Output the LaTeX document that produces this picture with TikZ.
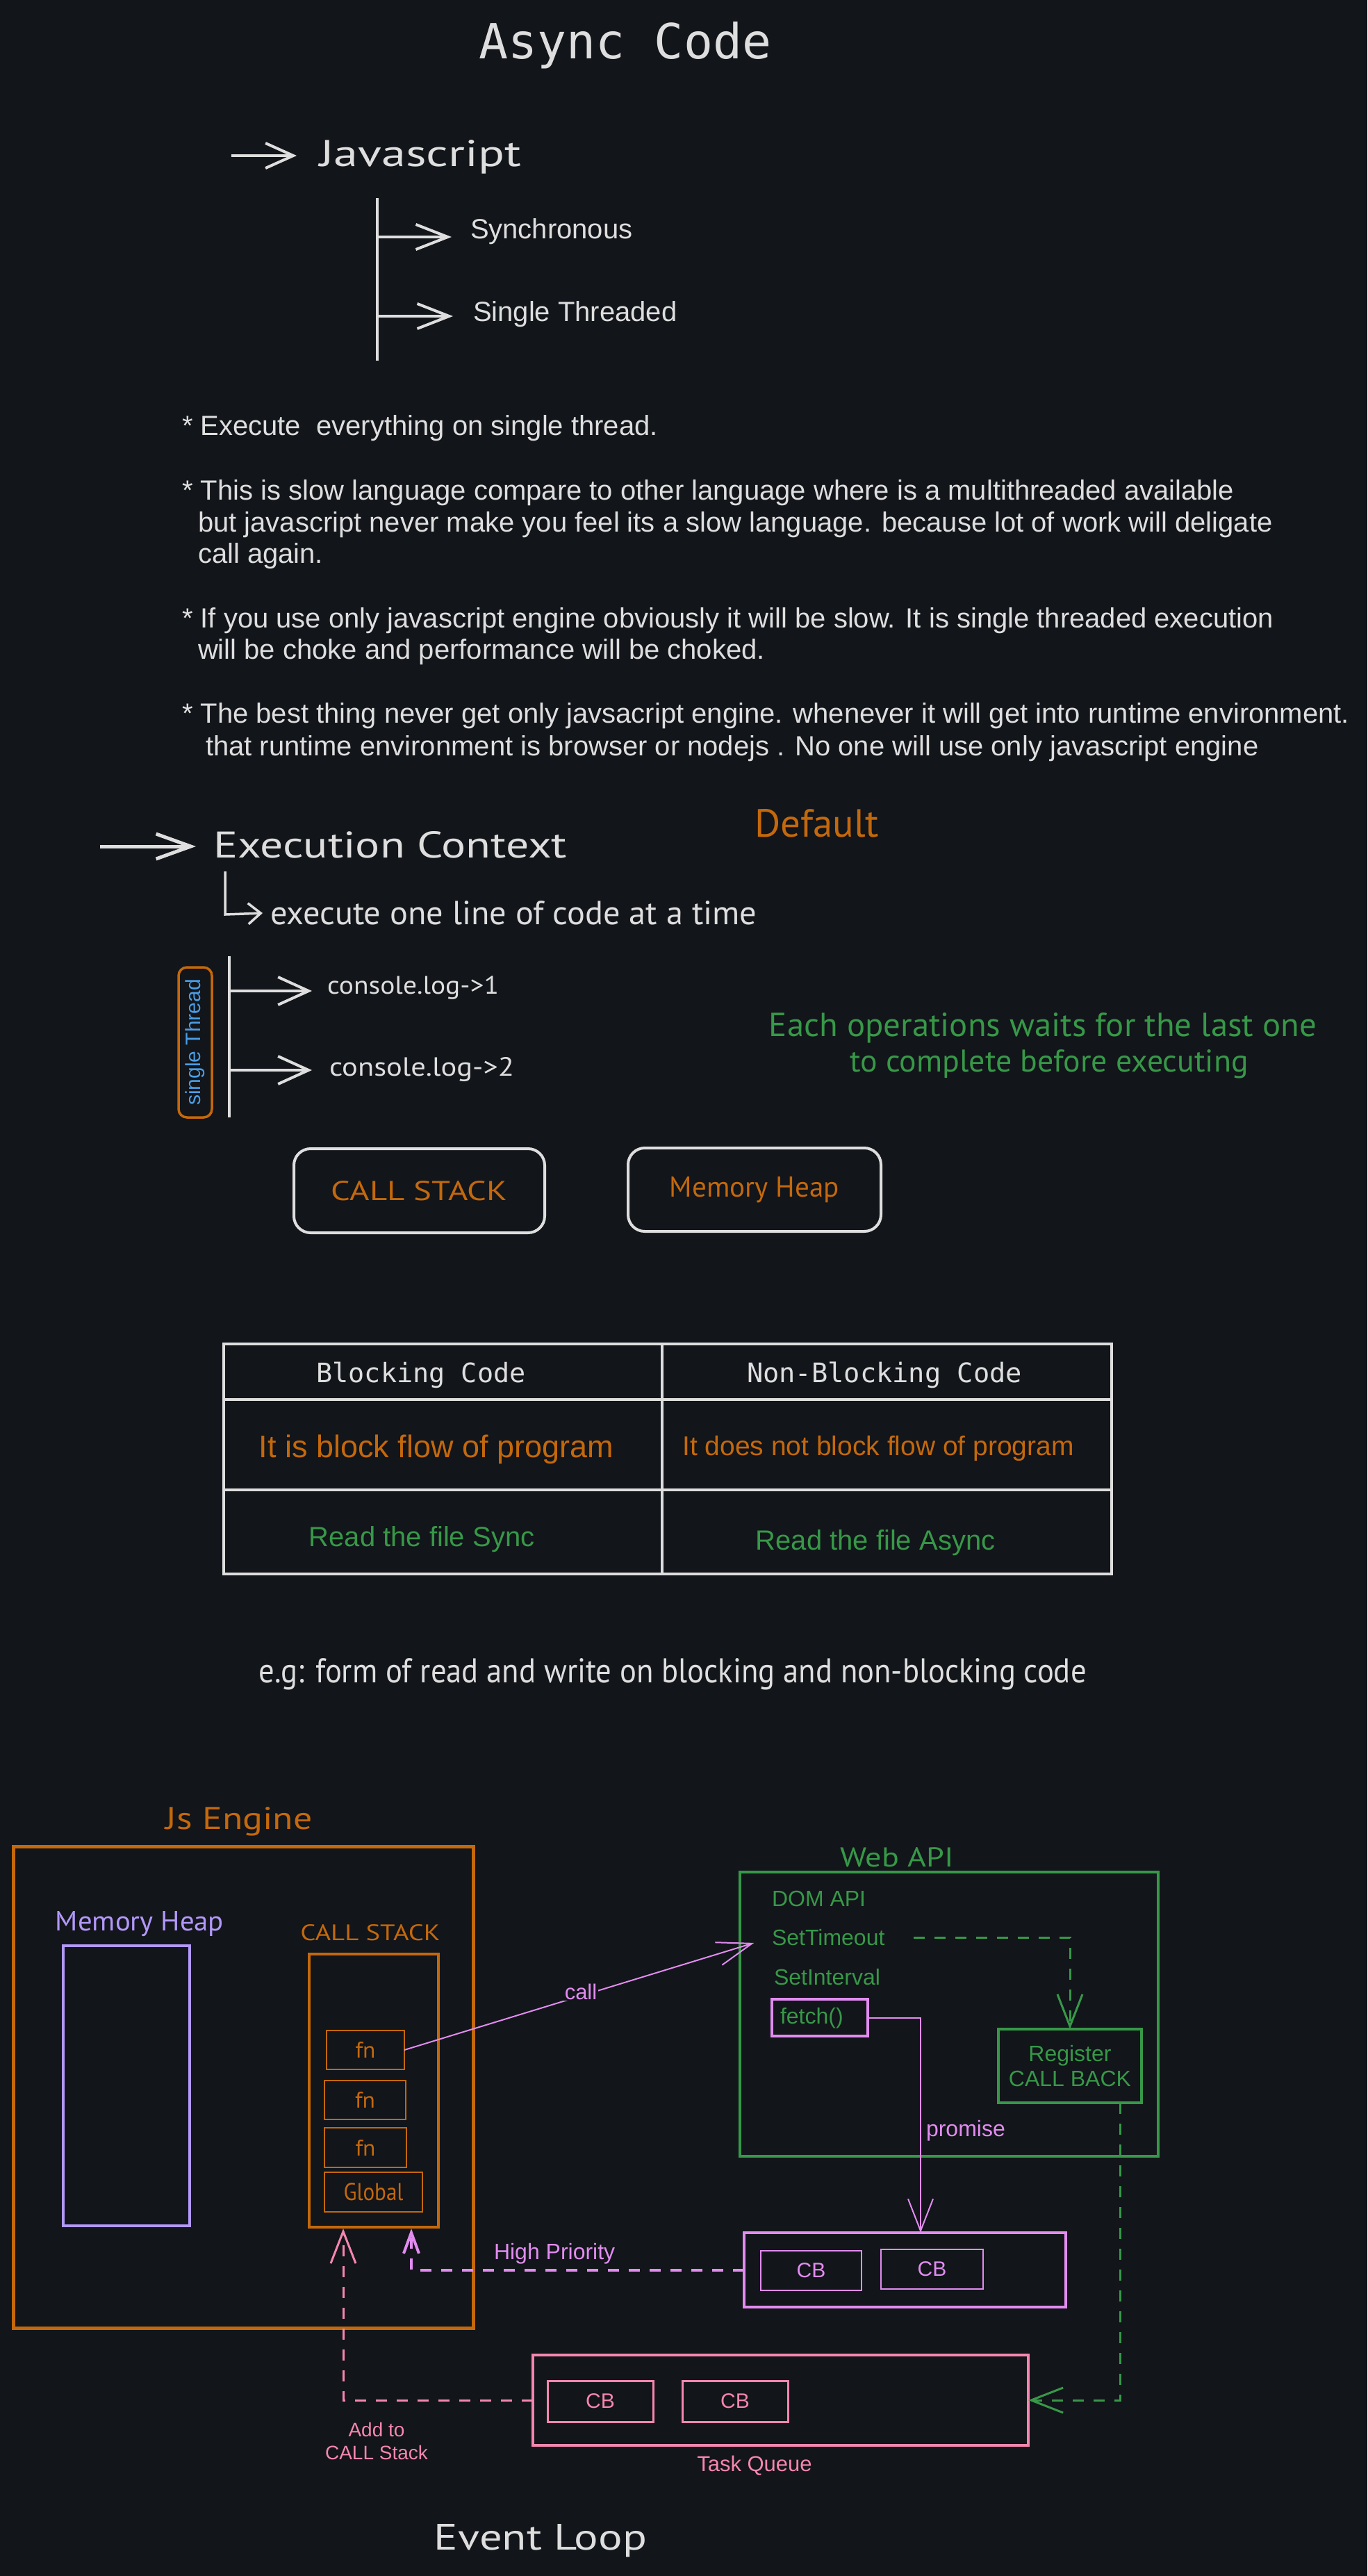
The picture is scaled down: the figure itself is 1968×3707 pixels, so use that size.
\documentclass[tikz,border=0pt]{standalone}
\usepackage{fontspec}
\usepackage{graphicx}
\setmainfont{Liberation Sans}
\newfontfamily\handfont{PT Sans}
\newfontfamily\codefont{DejaVu Sans Mono}
\usetikzlibrary{arrows.meta}
\definecolor{bg}{RGB}{18,21,26}
\definecolor{fg}{RGB}{222,222,222}
\definecolor{org}{RGB}{196,104,12}
\definecolor{grn}{RGB}{55,152,72}
\definecolor{vio}{RGB}{226,140,240}
\definecolor{pnk}{RGB}{247,134,174}
\definecolor{lav}{RGB}{178,152,250}
\definecolor{blu}{RGB}{74,158,230}
\newcommand{\hw}[3]{\resizebox{#1pt}{#2pt}{\handfont #3}}
\newcommand{\cw}[2]{\resizebox{#1pt}{!}{\codefont #2}}
\newcommand{\fsz}[1]{\fontsize{#1}{#1}\selectfont}
\tikzset{
  txt/.style={inner sep=0pt, outer sep=0pt},
  box/.style={draw, inner sep=0pt, outer sep=0pt, anchor=north west},
  barb/.style={-{Straight Barb[length=46pt,width=36pt]}},
  sbarb/.style={-{Straight Barb[length=30pt,width=22pt]}},
  dsh/.style={dash pattern=on 16pt off 14pt},
}
\begin{document}
\begin{tikzpicture}[x=1pt,y=-1pt]
\fill[bg] (0,0) rectangle (1968,3707);
\useasboundingbox (0,0) rectangle (1968,3707);

% ---------- title ----------
\node[txt, text=fg] (title) at (900,65) {\cw{420}{Async Code}};

% ---------- Javascript ----------
\node[txt, text=fg, anchor=west] (js) at (460,226) {\hw{290}{38}{Javascript}};
\coordinate (jsA) at (333,224);
\draw[fg, line width=4pt, -{Straight Barb[length=40pt,width=36pt]}, shorten >=33pt] (jsA) -- (js.west |- jsA);

\coordinate (t1) at (543,285);
\coordinate (t2) at (543,519);
\draw[fg, line width=4pt] (t1) -- (t2);
\node[txt, text=fg, anchor=west] (sync) at (677,333) {\fsz{40}Synchronous};
\node[txt, text=fg, anchor=west] (single) at (681,452) {\fsz{40}Single Threaded};
\coordinate (b1) at (543,341);
\coordinate (b2) at (543,455);
\draw[fg, line width=4pt, barb] (b1) -- (650,341);
\draw[fg, line width=4pt, barb] (b2) -- (652,455);

% ---------- bullet text ----------
\begin{scope}[every node/.style={txt, text=fg, anchor=base west, font=\fsz{40}}]
\node (l1) at (262,626) {* Execute\ \ everything on single thread.};
\node (l2) at (262,719) {* This is slow language compare to other language where is a multithreaded available};
\node (l3) at (285,765) {but javascript never make you feel its a slow language. because lot of work will deligate};
\node (l4) at (285,810) {call again.};
\node (l5) at (262,903) {* If you use only javascript engine obviously it will be slow. It is single threaded execution};
\node (l6) at (285,948) {will be choke and performance will be choked.};
\node (l7) at (262,1040) {* The best thing never get only javsacript engine. whenever it will get into runtime environment.};
\node (l8) at (296,1087) {that runtime environment is browser or nodejs . No one will use only javascript engine};
\end{scope}

% ---------- Execution context ----------
\node[txt, text=fg, anchor=west] (ec) at (307,1216) {\hw{509}{38}{Execution Context}};
\coordinate (ecA) at (144,1218);
\draw[fg, line width=5pt, -{Straight Barb[length=50pt,width=36pt]}] (ecA) -- (282,1218);
\node[txt, text=org, anchor=west] (def) at (1086,1185) {\hw{179}{40}{Default}};
\node[txt, text=fg, anchor=west] (exe) at (389,1314) {\hw{700}{34}{execute one line of code at a time}};
\coordinate (exA) at (324,1254);
\draw[fg, line width=3.5pt, -{Straight Barb[length=18pt,width=30pt]}] (exA) -- (324,1316) -- (378,1314);

\coordinate (v1) at (330,1376);
\coordinate (v2) at (330,1608);
\draw[fg, line width=3.5pt] (v1) -- (v2);
\node[txt, text=fg, anchor=west] (c1) at (471,1421) {\hw{247}{26}{console.log->1}};
\node[txt, text=fg, anchor=west] (c2) at (474,1539) {\hw{266}{27}{console.log->2}};
\coordinate (cb1a) at (330,1426);
\coordinate (cb2a) at (330,1540);
\draw[fg, line width=4pt, -{Straight Barb[length=44pt,width=40pt]}] (cb1a) -- (449,1426);
\draw[fg, line width=4pt, -{Straight Barb[length=44pt,width=40pt]}] (cb2a) -- (449,1540);

\node[draw=org, line width=3.5pt, rounded corners=12pt, rotate=90, minimum width=216pt, minimum height=48pt, text=blu, inner sep=0pt, font=\fsz{30}] (thr) at (281,1500) {single Thread};

\node[txt, text=grn] (each1) at (1501,1479) {\hw{788}{34}{Each operations waits for the last one}};
\node[txt, text=grn] (each2) at (1510,1531) {\hw{573}{32}{to complete before executing}};

\node[box, draw=fg, line width=4pt, rounded corners=24pt, minimum width=361pt, minimum height=121pt] (csb) at (423,1653) {};
\node[box, draw=fg, line width=4pt, rounded corners=24pt, minimum width=364pt, minimum height=120pt] (mhb) at (904,1652) {};
\node[txt, text=org] (cst) at (csb.center) {\hw{253}{28}{CALL STACK}};
\node[txt, text=org] (mht) at (mhb.center) {\hw{244}{29}{Memory Heap}};

% ---------- table ----------
\node[box, draw=fg, line width=4.5pt, minimum width=1278pt, minimum height=331pt] (tbl) at (322,1934) {};
\coordinate (tv1) at (953,1934);
\coordinate (tv2) at (953,2265);
\draw[fg, line width=4.5pt] (tv1) -- (tv2);
\coordinate (th1a) at (322,2014);
\coordinate (th1b) at (1600,2014);
\coordinate (th2a) at (322,2144);
\coordinate (th2b) at (1600,2144);
\draw[fg, line width=4.5pt] (th1a) -- (th1b);
\draw[fg, line width=4.5pt] (th2a) -- (th2b);
\node[txt, text=fg] (h1) at (606,1979) {\cw{301}{Blocking Code}};
\node[txt, text=fg] (h2) at (1273,1979) {\cw{396}{Non-Blocking Code}};
\node[txt, text=org, font=\fsz{45}] (r1a) at (628,2086) {It is block flow of program};
\node[txt, text=org, font=\fsz{39}] (r1b) at (1264,2084) {It does not block flow of program};
\node[txt, text=grn, font=\fsz{40}] (r2a) at (607,2215) {Read the file Sync};
\node[txt, text=grn, font=\fsz{40}] (r2b) at (1260,2220) {Read the file Async};

\node[txt, text=fg] (eg) at (968,2409) {\hw{1191}{35}{e.g: form of read and write on blocking and non-blocking code}};

% ---------- JS engine ----------
\node[txt, text=org] (jsel) at (344,2621) {\hw{211}{32}{Js Engine}};
\node[box, draw=org, line width=5pt, minimum width=662pt, minimum height=693pt] (jse) at (19,2657) {};
\node[txt, text=lav] (mhl) at (201,2769) {\hw{242}{28}{Memory Heap}};
\node[box, draw=lav, line width=4pt, minimum width=182pt, minimum height=403pt] (mh) at (91,2800) {};
\node[txt, text=org] (csl) at (533,2781) {\hw{201}{23}{CALL STACK}};
\node[box, draw=org, line width=4pt, minimum width=186pt, minimum height=393pt] (cs) at (445,2812) {};
\node[box, draw=org, line width=2pt, minimum width=112pt, minimum height=56pt] (fn1) at (470,2922) {};
\node[box, draw=org, line width=2pt, minimum width=117pt, minimum height=56pt] (fn2) at (467,2994) {};
\node[box, draw=org, line width=2pt, minimum width=118pt, minimum height=57pt] (fn3) at (467,3062) {};
\node[box, draw=org, line width=2pt, minimum width=141pt, minimum height=57pt] (glob) at (467,3126) {};
\node[txt, text=org] at (fn1.center) {\hw{29}{23}{fn}};
\node[txt, text=org] at (fn2.center) {\hw{29}{23}{fn}};
\node[txt, text=org] at (fn3.center) {\hw{29}{23}{fn}};
\node[txt, text=org] at (glob.center) {\hw{86}{25}{Global}};

% ---------- Web API ----------
\node[txt, text=grn] (wal) at (1291,2673) {\hw{163}{28}{Web API}};
\node[box, draw=grn, line width=4pt, minimum width=602pt, minimum height=409pt] (wa) at (1065,2694) {};
\node[txt, text=grn, anchor=west, font=\fsz{32}] (dom) at (1111,2732) {DOM API};
\node[txt, text=grn, anchor=west, font=\fsz{32}] (st) at (1111,2788) {SetTimeout};
\node[txt, text=grn, anchor=west, font=\fsz{32}] (si) at (1114,2845) {SetInterval};
\node[box, draw=vio, line width=4pt, minimum width=138pt, minimum height=53pt] (fetch) at (1111,2877) {};
\node[txt, text=grn, anchor=west, font=\fsz{32}] (fetcht) at (1123,2904) {fetch()};
\node[box, draw=grn, line width=4pt, minimum width=206pt, minimum height=106pt] (reg) at (1437,2920) {};
\node[txt, text=grn, align=center, font=\fontsize{32}{36}\selectfont] (regt) at (reg.center) {Register\\CALL BACK};

% ---------- queues ----------
\node[box, draw=vio, line width=4pt, minimum width=463pt, minimum height=107pt] (mq) at (1071,3213) {};
\node[box, draw=vio, line width=2.5pt, minimum width=145pt, minimum height=57pt, font=\fsz{30}, text=vio] (q1) at (1095,3239) {CB};
\node[box, draw=vio, line width=2.5pt, minimum width=147pt, minimum height=57pt, font=\fsz{30}, text=vio] (q2) at (1268,3237) {CB};
\node[box, draw=pnk, line width=3.5pt, minimum width=713pt, minimum height=130pt] (tq) at (767,3389) {};
\node[box, draw=pnk, line width=3pt, minimum width=152pt, minimum height=59pt, font=\fsz{30}, text=pnk] (q3) at (788,3426) {CB};
\node[box, draw=pnk, line width=3pt, minimum width=152pt, minimum height=59pt, font=\fsz{30}, text=pnk] (q4) at (982,3426) {CB};
\node[txt, text=pnk, font=\fsz{31}] (tql) at (1086,3548) {Task Queue};
\node[txt, text=pnk, font=\fontsize{28}{33}\selectfont, align=center] (addl) at (542,3513) {Add to\\CALL Stack};

% ---------- connectors ----------
\draw[vio, line width=2pt, -{Straight Barb[length=50pt,width=34pt]}, shorten >=27pt] (fn1.east) -- (st.west);
\node[txt, text=vio, font=\fsz{31}, fill=bg, inner sep=2pt] (calll) at (836,2866) {call};

\coordinate (gst) at (1315,2788);
\draw[grn, line width=3pt, dsh, -{Straight Barb[length=46pt,width=36pt]}] (gst) -| (reg.north);

\coordinate (pmTop) at (1325,3213);
\draw[vio, line width=2pt, barb] (fetch.east) -| (pmTop);
\node[txt, text=vio, anchor=west, font=\fsz{32}] (prom) at (1333,3066) {promise};

\coordinate (hpTip) at (592,3207);
\draw[vio, line width=4pt, dsh, sbarb] (mq.west) -| (hpTip);
\node[txt, text=vio, anchor=west, font=\fsz{32}] (hpl) at (711,3243) {High Priority};

\coordinate (atTip) at (494,3207);
\draw[pnk, line width=3pt, dsh, barb] (tq.west) -| (atTip);

\coordinate (rgB) at (1612,3026);
\draw[grn, line width=3pt, dsh, barb] (rgB) |- (tq.east);

\node[txt, text=fg] (el) at (778,3656) {\hw{306}{37}{Event Loop}};
\end{tikzpicture}
\end{document}
